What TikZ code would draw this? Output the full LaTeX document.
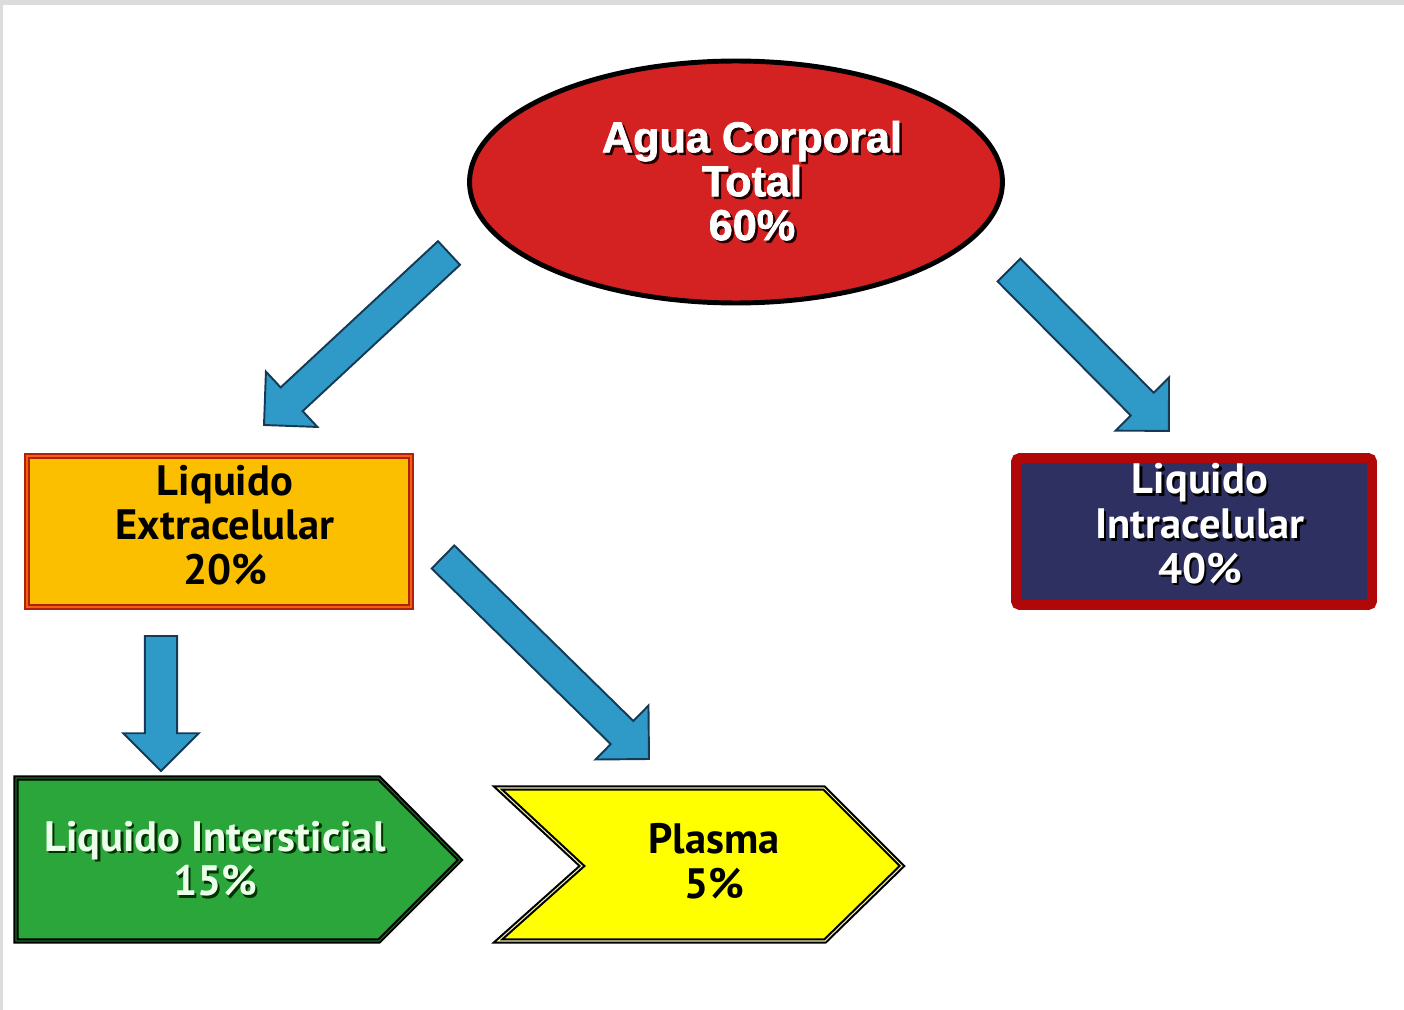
\documentclass[tikz,border=0pt]{standalone}
\usepackage{fontspec}
\setmainfont{PT Sans}
\newfontfamily\titlefont[BoldFeatures={FakeBold=1.6}]{Liberation Sans}
\usetikzlibrary{calc,shapes.geometric}

\definecolor{ellred}{HTML}{D42222}
\definecolor{extfill}{HTML}{FBBF00}
\definecolor{extborder}{HTML}{B0200A}
\definecolor{extinner}{HTML}{F06010}
\definecolor{intfill}{HTML}{2E3062}
\definecolor{intborder}{HTML}{B00808}
\definecolor{greenfill}{HTML}{2BA63A}
\definecolor{greenline}{HTML}{1A6A22}
\definecolor{yellowfill}{HTML}{FFFF00}
\definecolor{yellowline}{HTML}{F0EEB0}
\definecolor{arrowfill}{HTML}{2F99C7}
\definecolor{arrowline}{HTML}{153A55}
\definecolor{framegray}{HTML}{DCDCDC}

\newcommand\shl[2][black]{\leavevmode\rlap{\kern1.4pt\raisebox{-1.4pt}{\textcolor{#1}{#2}}}#2}

\newcommand\blockarrow[2]{%
  \path let \p1=($(#2)-(#1)$), \n1={atan2(\y1,\x1)}, \n2={veclen(\x1,\y1)} in
    \pgfextra{\xdef\baang{\n1}\xdef\balen{\n2}};
  \begin{scope}[shift={(#1)}, rotate=\baang]
    \path[blockarrowstyle] (0pt,-9.2pt) -- ({\balen-21.5pt},-9.2pt) -- ({\balen-21.5pt},-21.5pt)
      -- ({\balen},0pt) -- ({\balen-21.5pt},21.5pt) -- ({\balen-21.5pt},9.2pt) -- (0pt,9.2pt) -- cycle;
  \end{scope}}

\tikzset{
  blockarrowstyle/.style={fill=arrowfill, draw=arrowline, line width=1.1pt, line join=miter},
  labeltext/.style={font=\bfseries\fontsize{24.2}{25.5}\selectfont, align=center, inner sep=0pt},
}

\begin{document}
\begin{tikzpicture}[x=0.02cm,y=-0.02cm]
\useasboundingbox (0,0) rectangle (1404,1010);
\fill[framegray] (0,0) rectangle (1404,5);
\fill[framegray] (0,0) rectangle (3,1010);

% top ellipse
\node[ellipse, draw=black, line width=2.8pt, fill=ellred, minimum width=10.66cm, minimum height=4.84cm,
      inner sep=0pt] (total) at (736,182) {};
\node[text=white, align=center, inner sep=0pt,
      font=\titlefont\bfseries\fontsize{24.6}{25}\selectfont] (totallabel) at (752,182)
      {\shl[black!85!red]{Agua Corporal}\\\shl[black!85!red]{Total}\\\shl[black!85!red]{60\%}};

% extracellular box
\node[draw=extborder, double=extinner, double distance=0.8pt, line width=1.3pt, fill=extfill,
      minimum width=7.68cm, minimum height=3.02cm, inner sep=0pt] (ext) at (219,531.5) {};
\node[labeltext, text=black] (extlabel) at (225,525) {Liquido\\Extracelular\\20\%};

% intracellular box
\node[draw=intborder, line width=5.5pt, rounded corners=2pt, fill=intfill,
      minimum width=7.12cm, minimum height=2.94cm, inner sep=0pt] (intra) at (1194,531.5) {};
\node[labeltext, text=white] (intralabel) at (1200,525)
      {\shl{Liquido}\\\shl{Intracelular}\\\shl{40\%}};

% green pentagon
\draw[fill=greenfill, draw=black, double=greenline, double distance=0.6pt, line width=1.2pt, line join=miter]
  (16,778) -- (379,778) -- (460,860) -- (379,941) -- (16,941) -- cycle;
\node[labeltext, text=green!8!white] (inter) at (215,860)
  {\shl[black!80!green]{Liquido Intersticial}\\\shl[black!80!green]{15\%}};

% yellow chevron
\draw[fill=yellowfill, draw=black, double=yellowline, double distance=0.6pt, line width=1.2pt, line join=miter]
  (498,788) -- (824,788) -- (902,866) -- (825,941) -- (498,941) -- (582,866) -- cycle;
\node[labeltext, text=black] (plasma) at (714,861) {Plasma\\5\%};

% block arrows
\coordinate (a1s) at (449,253); \coordinate (a1e) at (264,425);
\coordinate (a2s) at (1009,270); \coordinate (a2e) at (1169,431);
\coordinate (a3s) at (161,636); \coordinate (a3e) at (161,771);
\coordinate (a4s) at (443,557); \coordinate (a4e) at (649,759);
\blockarrow{a1s}{a1e}
\blockarrow{a2s}{a2e}
\blockarrow{a3s}{a3e}
\blockarrow{a4s}{a4e}
\end{tikzpicture}
\end{document}
